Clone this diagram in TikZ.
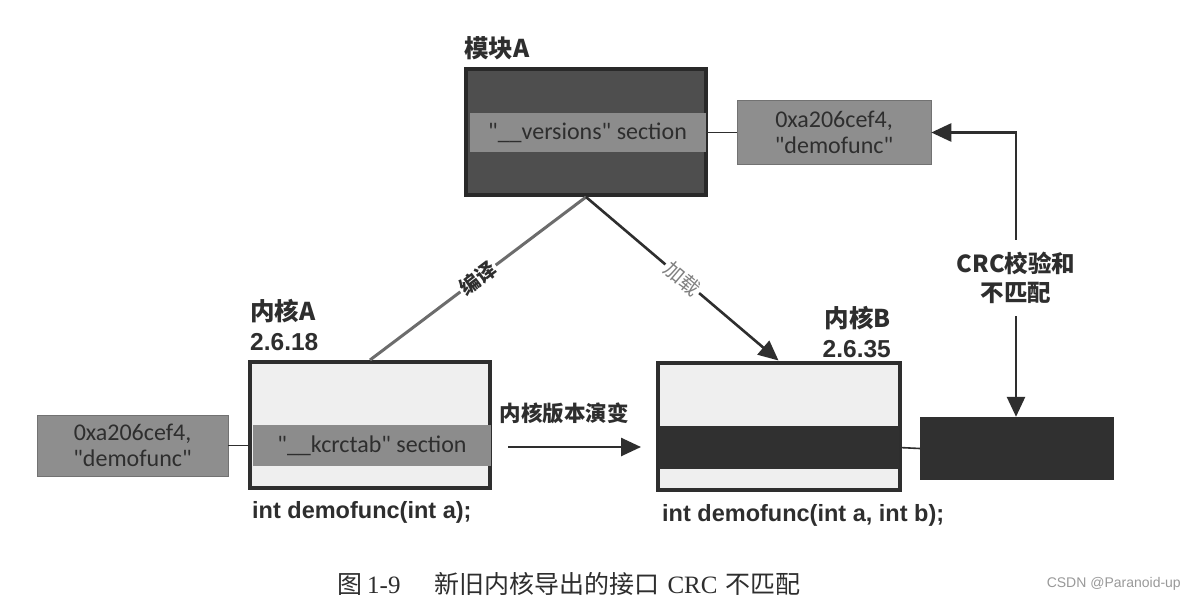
\documentclass[tikz,border=0pt]{standalone}
\usepackage{fontspec}
\setmainfont{Liberation Sans}
\newfontfamily\cjk{Noto Sans CJK SC}
\newfontfamily\calib{Carlito}
\newfontfamily\capserif{Liberation Serif}
\usetikzlibrary{arrows.meta}
\definecolor{ink}{HTML}{2E2E2E}
\definecolor{modfill}{HTML}{4E4E4E}
\definecolor{bandgray}{HTML}{8C8C8C}
\definecolor{hexgray}{HTML}{8E8E8E}
\definecolor{kfill}{HTML}{EFEFEF}
\definecolor{darkband}{HTML}{303030}
\begin{document}
\begin{tikzpicture}[x=1pt,y=-1pt,
  titlefont/.style={font=\bfseries\fontsize{24.5}{30}\selectfont, text=ink, inner sep=0pt},
  boxtext/.style={font=\calib\fontsize{24}{26}\selectfont, text=ink, align=center, inner sep=0pt},
  hexbox/.style={boxtext, draw=hexgray!80!black, line width=0.6pt, fill=hexgray, minimum width=194pt, minimum height=64pt},
  kbox/.style={draw=ink, line width=4pt, fill=kfill, minimum width=240pt, minimum height=126pt, inner sep=0pt},
  band/.style={boxtext, minimum width=238pt, minimum height=41pt},
  codefont/.style={font=\bfseries\fontsize{23.5}{26}\selectfont, text=ink, inner sep=0pt},
  conn/.style={draw=ink, line width=1.6pt},
  arr/.style={draw=ink, line width=2.6pt, -{Triangle[length=20pt,width=18pt]}},
  slab/.style={sloped, fill=white, inner sep=2pt, font=\cjk\bfseries\fontsize{20}{20}\selectfont}
]
\useasboundingbox (0,0) rectangle (1190,610);
\fill[white] (0,0) rectangle (1190,610);

% Module A
\node[draw=ink!90!black, line width=4pt, fill=modfill, minimum width=240pt, minimum height=126pt, inner sep=0pt] (mod) at (586,132) {};
\node[band, fill=bandgray, minimum width=236pt, minimum height=39pt] (ver) at (587.5,132.5) {"\_\_versions" section};
\node[titlefont, anchor=west] (tmod) at (464,48) {\cjk 模块A};
\node[hexbox] (hex1) at (834,132.5) {0xa206cef4,\\"demofunc"};
\draw[conn] (ver.east) -- (hex1.west);

% Kernel A
\node[kbox] (ka) at (370,425) {};
\node[band, fill=bandgray] (kcrc) at (372,445.5) {"\_\_kcrctab" section};
\node[titlefont, anchor=north west, align=left] (tka) at (250,299) {{\cjk 内核A}\\2.6.18};
\node[codefont, anchor=west] (codeA) at (252,512) {int demofunc(int a);};
\node[hexbox, minimum width=191pt, minimum height=61pt] (hex2) at (132.5,445.5) {0xa206cef4,\\"demofunc"};
\draw[conn] (hex2.east) -- (hex2.east -| ka.west);

% Kernel B
\node[kbox, minimum width=242pt, minimum height=127pt] (kb) at (778.5,426) {};
\node[band, fill=darkband, minimum width=240pt, minimum height=43pt] (kbb) at (779,447.5) {};
\node[titlefont, anchor=north east, align=right] (tkb) at (891,306) {{\cjk 内核B}\\2.6.35};
\node[codefont, anchor=west] (codeB) at (662,515) {int demofunc(int a, int b);};
\node[fill=darkband, minimum width=194pt, minimum height=63pt, inner sep=0pt] (crcbox) at (1017,448.5) {};
\draw[conn] (kbb.east) -- (crcbox.west);

% CRC mismatch
\node[titlefont, align=center, font=\cjk\bfseries\fontsize{23.5}{29}\selectfont, inner ysep=12pt] (crc) at (1016,278) {CRC校验和\\不匹配};
\draw[arr] (crc.north) |- (hex1.east);
\draw[arr] (crc.south) -- (crc.south |- crcbox.north);

% evolution arrow
\coordinate (evoA) at (508,447);
\coordinate (evoB) at (641,447);
\draw[arr] (evoA) -- (evoB);
\node[titlefont, font=\cjk\bfseries\fontsize{21.5}{24}\selectfont] (evo) at (564,413) {内核版本演变};

% compile and load
\draw[draw=gray!85!black, line width=3pt] (mod.south) -- node[slab, text=ink] (lcomp) {编译} (ka.north);
\draw[arr] (mod.south) -- node[slab, text=gray, font=\cjk\fontsize{20}{20}\selectfont] (lload) {加载} (kb.north);

% caption
\node[inner sep=0pt, anchor=west, text=ink, font=\fontsize{25}{27}\selectfont] (cap) at (337,584) {{\cjk 图}\hspace{5pt}{\capserif 1-9}\hspace{34pt}{\cjk 新旧内核导出的接口}\hspace{8pt}{\capserif CRC}\hspace{8pt}{\cjk 不匹配}};
\node[inner sep=0pt, anchor=east, text=gray!80, font=\fontsize{14}{16}\selectfont] (wm) at (1181,584) {CSDN @Paranoid-up};
\end{tikzpicture}
\end{document}
